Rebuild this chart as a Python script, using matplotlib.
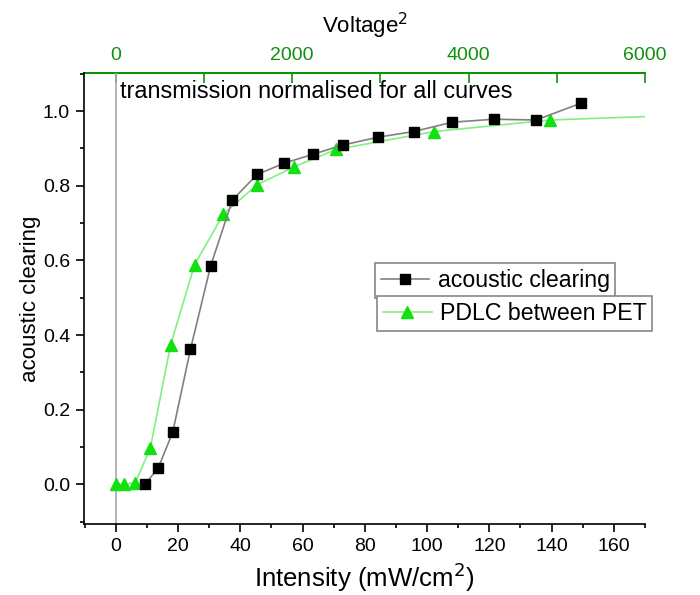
import matplotlib
matplotlib.use("Agg")
import matplotlib.pyplot as plt
from matplotlib.ticker import MultipleLocator

plt.rcParams['font.family'] = ['Liberation Sans', 'DejaVu Sans']

# acoustic clearing (black squares)
ac_x = [9.3, 13.6, 18.3, 24.0, 30.5, 37.5, 45.4, 54.0, 63.3, 73.0, 84.3, 95.7, 108.1, 121.4, 135.0, 149.5]
ac_y = [0.0, 0.043, 0.14, 0.362, 0.586, 0.762, 0.830, 0.860, 0.884, 0.909, 0.930, 0.945, 0.970, 0.978, 0.976, 1.021]

# PDLC between PET (green triangles), line runs on past last marker
pdlc_x = [0, 2.7, 6.3, 11.1, 17.6, 25.3, 34.5, 45.3, 57.4, 70.8, 102.3, 139.6]
pdlc_y = [0, 0, 0.005, 0.097, 0.373, 0.588, 0.723, 0.802, 0.851, 0.897, 0.945, 0.976]
pdlc_tail_x = [170]
pdlc_tail_y = [0.985]

x_ticks = [0, 20, 40, 60, 80, 100, 120, 140, 160]
v2_ticks = [0, 2000, 4000, 6000]

green_dark = '#109010'

fig = plt.figure(figsize=(7, 5.95), dpi=100)
ax = fig.add_axes([0.12, 0.1193, 0.8014, 0.7575])

ax.axvline(0, color='#a8a8a8', lw=1.2, zorder=1)

# green line + markers
ax.plot(pdlc_x + pdlc_tail_x, pdlc_y + pdlc_tail_y, color='#80f080', lw=1.2, zorder=2)
ax.plot(pdlc_x, pdlc_y, ls='none', marker='^', ms=9, color='#11e011', zorder=3)
h2, = ax.plot([], [], color='#80f080', lw=1.2, marker='^', ms=9, mfc='#11e011', mec='#11e011')

# black
h1, = ax.plot(ac_x, ac_y, color='#808080', lw=1.2, marker='s', ms=7,
              mfc='black', mec='black', zorder=4)

ax.set_xlim(-10.2, 170)
ax.set_ylim(-0.106, 1.101)
ax.set_xticks(x_ticks)
ax.xaxis.set_minor_locator(MultipleLocator(10))
ax.yaxis.set_major_locator(MultipleLocator(0.2))
ax.yaxis.set_minor_locator(MultipleLocator(0.1))
ax.yaxis.set_major_formatter(plt.FuncFormatter(lambda v, p: f"{v:.1f}"))
ax.tick_params(axis='both', which='major', direction='out', length=6, width=1.2, labelsize=14, pad=4)
ax.tick_params(axis='both', which='minor', direction='out', length=3, width=1.2)
ax.spines['right'].set_visible(False)
ax.spines['top'].set_visible(False)
for s in ['left', 'bottom']:
    ax.spines[s].set_linewidth(1.2)

ax.set_xlabel('Intensity (mW/cm$^2$)', fontsize=18.5, labelpad=4)
ax.set_ylabel('acoustic clearing', fontsize=16, labelpad=1)

# top axis: voltage squared
top = ax.secondary_xaxis('top', functions=(lambda x: x * 6000 / 170, lambda v: v * 170 / 6000))
top.set_xticks(v2_ticks)
top.xaxis.set_minor_locator(MultipleLocator(1000))
top.spines['top'].set_color(green_dark)
top.spines['top'].set_linewidth(1.5)
top.tick_params(axis='x', which='both', direction='in', length=7, width=1.2,
                color=green_dark, labelcolor=green_dark, labelsize=14, pad=6.5)
top.set_xlabel('Voltage$^2$', fontsize=16, labelpad=10)

ax.text(1.3, 1.051, 'transmission normalised for all curves', fontsize=16.8, va='center', ha='left')

leg_kw = dict(fontsize=16.7, loc='upper left', frameon=True, fancybox=False, framealpha=1,
              edgecolor='#888888', borderpad=0.25, handlelength=2.1, handletextpad=0.35,
              borderaxespad=0, bbox_transform=fig.transFigure)
leg1 = ax.legend([h1], ['acoustic clearing'], bbox_to_anchor=(0.5357, 0.558), **leg_kw)
ax.add_artist(leg1)
leg2 = ax.legend([h2], ['PDLC between PET'], bbox_to_anchor=(0.5386, 0.5025), **leg_kw)
for lg in (leg1, leg2):
    lg.get_frame().set_linewidth(1.2)

fig.savefig('out.png', dpi=100)
